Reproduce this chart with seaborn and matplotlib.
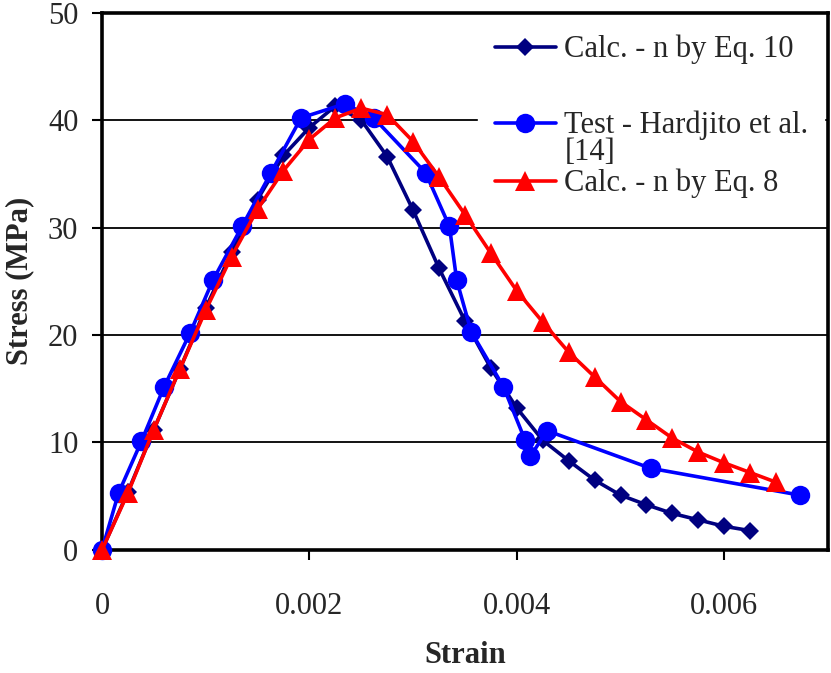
import matplotlib
matplotlib.use("Agg")
import matplotlib.pyplot as plt
import seaborn as sns
import pandas as pd
from matplotlib.ticker import FixedLocator, FixedFormatter

# Calculated curve, n from Eq. 10
strain_eq10 = [0, 0.00025, 0.0005, 0.00075, 0.001, 0.00125, 0.0015, 0.00175,
               0.002, 0.00225, 0.0025, 0.00275, 0.003, 0.00325, 0.0035, 0.00375,
               0.004, 0.00425, 0.0045, 0.00475, 0.005, 0.00525, 0.0055, 0.00575,
               0.006, 0.00625]
stress_eq10 = [0, 5.4, 11.2, 16.8, 22.5, 27.7, 32.6, 36.7,
               39.3, 41.3, 40.0, 36.6, 31.6, 26.2, 21.3, 16.9,
               13.2, 10.2, 8.3, 6.5, 5.1, 4.2, 3.4, 2.8,
               2.2, 1.8]

# Test data, Hardjito et al. [14]
strain_test = [0, 0.00016, 0.00038, 0.0006, 0.00085, 0.00107, 0.00135, 0.00163,
               0.00192, 0.00234, 0.00262, 0.00312, 0.00335, 0.00342, 0.00356,
               0.00387, 0.00408, 0.00413, 0.00429, 0.00529, 0.00673]
stress_test = [0, 5.3, 10.1, 15.2, 20.2, 25.1, 30.1, 35.1,
               40.2, 41.5, 40.2, 35.1, 30.1, 25.1, 20.3,
               15.2, 10.2, 8.7, 11.1, 7.6, 5.1]

# Calculated curve, n from Eq. 8
strain_eq8 = [0, 0.00025, 0.0005, 0.00075, 0.001, 0.00125, 0.0015, 0.00175,
              0.002, 0.00225, 0.0025, 0.00275, 0.003, 0.00325, 0.0035, 0.00375,
              0.004, 0.00425, 0.0045, 0.00475, 0.005, 0.00525, 0.0055, 0.00575,
              0.006, 0.00625, 0.0065]
stress_eq8 = [0, 5.3, 11.2, 16.8, 22.3, 27.3, 31.7, 35.3,
              38.2, 40.2, 41.1, 40.5, 38.0, 34.7, 31.2, 27.6,
              24.1, 21.2, 18.4, 16.1, 13.8, 12.1, 10.4, 9.1,
              8.1, 7.2, 6.3]

label_eq10 = "Calc. - n by Eq. 10"
label_test = "Test - Hardjito et al."
label_test_ref = "[14]"
label_eq8 = "Calc. - n by Eq. 8"

x_ticks = [0, 0.002, 0.004, 0.006]
x_tick_labels = ["0", "0.002", "0.004", "0.006"]
y_ticks = [0, 10, 20, 30, 40, 50]
y_tick_labels = ["0", "10", "20", "30", "40", "50"]

sns.set_style("ticks")
plt.rcParams["font.family"] = ["Liberation Serif", "DejaVu Serif"]
FS = 22

fig = plt.figure(figsize=(8.31, 6.73), dpi=100)
ax = fig.add_axes([0.1227, 0.1828, 0.9964 - 0.1227, 0.9814 - 0.1828])

common = dict(ax=ax, sort=False, estimator=None, linewidth=2.6, clip_on=False)
sns.lineplot(x=strain_eq10, y=stress_eq10, color="#000080", marker="D",
             markersize=9.5, markeredgewidth=0, label=label_eq10, zorder=6,
             **common)
sns.lineplot(x=strain_test, y=stress_test, color="#0000FF", marker="o",
             markersize=14, markeredgewidth=0, label=label_test, zorder=7,
             **common)
sns.lineplot(x=strain_eq8, y=stress_eq8, color="#FF0000", marker="^",
             markersize=14.5, markeredgewidth=0, label=label_eq8, zorder=8,
             **common)

ax.set_xlim(0, 0.007)
ax.set_ylim(0, 50)
ax.xaxis.set_major_locator(FixedLocator(x_ticks))
ax.xaxis.set_major_formatter(FixedFormatter(x_tick_labels))
ax.yaxis.set_major_locator(FixedLocator(y_ticks))
ax.yaxis.set_major_formatter(FixedFormatter(y_tick_labels))

ax.set_axisbelow(True)
ax.yaxis.grid(True, color="black", linewidth=1.3)
ax.xaxis.grid(False)
for side in ["left", "right", "top", "bottom"]:
    ax.spines[side].set_visible(True)
    ax.spines[side].set_color("black")
    ax.spines[side].set_linewidth(2.6)
    ax.spines[side].set_zorder(5.5)

ax.tick_params(axis="y", direction="out", length=7, width=1.5, color="black",
               labelsize=FS, pad=10)
ax.tick_params(axis="x", direction="out", length=7, width=1.5, color="black",
               labelsize=FS, pad=23)

ax.set_xlabel("Strain", fontsize=FS, fontweight="bold", labelpad=15)
ax.set_ylabel("Stress (MPa)", fontsize=FS, fontweight="bold", labelpad=10)

# Legend: first entry on its own, the test and Eq. 8 entries below it
handles, labels = ax.get_legend_handles_labels()
ax.get_legend().remove()
leg_kw = dict(fontsize=FS, frameon=True, fancybox=False, framealpha=1,
              facecolor="white", edgecolor="white", loc="upper left",
              mode="expand", borderaxespad=0, borderpad=0.55,
              handlelength=2.0, handletextpad=0.28)
x0 = (478 - 102) / 726
w = (824 - 478) / 726
top_a = (550 - 18) / 537.5
top_b = (550 - 94) / 537.5
leg_a = ax.legend(handles[:1], labels[:1], bbox_to_anchor=(x0, top_a - 0.2, w, 0.2),
                  **leg_kw)
leg_a.set_zorder(5)
ax.add_artist(leg_a)
leg_b = ax.legend(handles[1:], labels[1:], bbox_to_anchor=(x0, top_b - 0.3, w, 0.3),
                  labelspacing=0.93, **leg_kw)
leg_b.set_zorder(5)

fig.canvas.draw()
ext = leg_b.get_texts()[0].get_window_extent()
px, py = fig.transFigure.inverted().transform((ext.x0, ext.y0 + 2))
fig.text(px, py, label_test_ref, fontsize=FS, va="top", ha="left", zorder=10)

fig.savefig("out.png", dpi=100)
